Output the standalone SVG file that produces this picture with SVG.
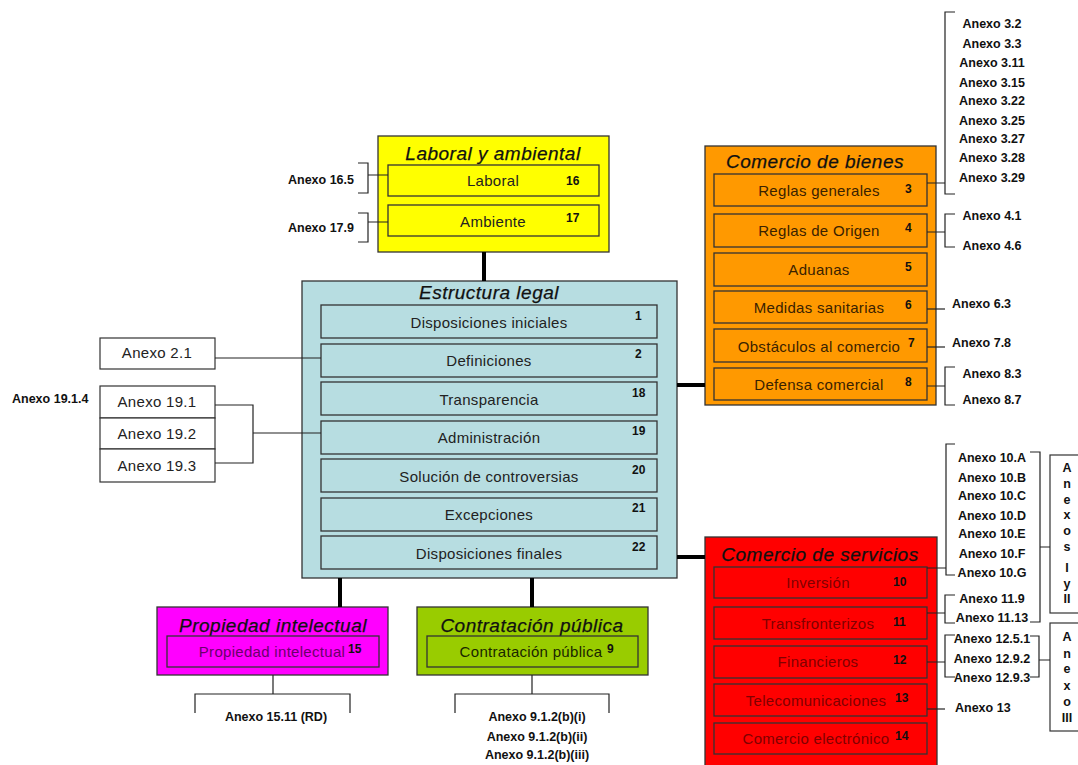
<svg xmlns="http://www.w3.org/2000/svg" width="1078" height="765" viewBox="0 0 1078 765">
<style>
text{font-family:"Liberation Sans",Arial,sans-serif}
.title{font-size:19px;font-style:italic;text-anchor:middle;fill:#111;letter-spacing:0.5px;stroke:#111;stroke-width:0.25px}
.item{font-size:15px;text-anchor:middle;letter-spacing:0.3px;fill:#222}
.num{font-size:12px;font-weight:bold;fill:#111}
.ax{font-size:12.5px;font-weight:bold;fill:#111}
.axm{font-size:12.5px;font-weight:bold;fill:#111;text-anchor:middle}
.box{stroke:#333;stroke-width:1.3}
.ln{fill:none;stroke:#222;stroke-width:1.2}
.thick{fill:none;stroke:#000;stroke-width:4}
.wbox{fill:#fff;stroke:#333;stroke-width:1.2}
.vl{font-size:12.5px;font-weight:bold;text-anchor:middle;fill:#111}
</style>
<rect width="1078" height="765" fill="#fff"/>

<g id="laboral-ambiental">
  <rect class="box" x="378" y="136" width="231" height="116" fill="#ffff00"/>
  <text class="title" x="493" y="160">Laboral y ambiental</text>
  <rect class="box" x="388" y="165" width="211" height="31" fill="#ffff00"/>
  <text class="item" x="493" y="186">Laboral</text>
  <text class="num" x="566" y="185">16</text>
  <rect class="box" x="388" y="205" width="211" height="31" fill="#ffff00"/>
  <text class="item" x="493" y="227">Ambiente</text>
  <text class="num" x="566" y="222">17</text>
  <text class="ax" x="354" y="184" text-anchor="end">Anexo 16.5</text>
  <text class="ax" x="354" y="232" text-anchor="end">Anexo 17.9</text>
</g>

<g id="estructura-legal">
  <rect class="box" x="302" y="281" width="375" height="297" fill="#b7dde1"/>
  <text class="title" x="489" y="299">Estructura legal</text>
  <g fill="#b7dde1">
    <rect class="box" x="321" y="305" width="336" height="33"/>
    <rect class="box" x="321" y="344" width="336" height="33"/>
    <rect class="box" x="321" y="382" width="336" height="33"/>
    <rect class="box" x="321" y="421" width="336" height="33"/>
    <rect class="box" x="321" y="459" width="336" height="33"/>
    <rect class="box" x="321" y="498" width="336" height="33"/>
    <rect class="box" x="321" y="536" width="336" height="33"/>
  </g>
  <text class="item" x="489" y="328">Disposiciones iniciales</text>
  <text class="item" x="489" y="366">Definiciones</text>
  <text class="item" x="489" y="405">Transparencia</text>
  <text class="item" x="489" y="443">Administración</text>
  <text class="item" x="489" y="482">Solución de controversias</text>
  <text class="item" x="489" y="520">Excepciones</text>
  <text class="item" x="489" y="559">Disposiciones finales</text>
  <text class="num" x="635" y="320">1</text>
  <text class="num" x="635" y="358">2</text>
  <text class="num" x="632" y="397">18</text>
  <text class="num" x="632" y="435">19</text>
  <text class="num" x="632" y="474">20</text>
  <text class="num" x="632" y="512">21</text>
  <text class="num" x="632" y="551">22</text>
</g>

<g id="anexos-izq">
  <rect class="wbox" x="100" y="338" width="115" height="31"/>
  <text class="item" x="157" y="358">Anexo 2.1</text>
  <rect class="wbox" x="100" y="386" width="115" height="32"/>
  <rect class="wbox" x="100" y="418" width="115" height="31"/>
  <rect class="wbox" x="100" y="449" width="115" height="33"/>
  <text class="item" x="157" y="407">Anexo 19.1</text>
  <text class="item" x="157" y="439">Anexo 19.2</text>
  <text class="item" x="157" y="471">Anexo 19.3</text>
  <text class="ax" x="12" y="403">Anexo 19.1.4</text>
</g>

<g id="comercio-bienes">
  <rect class="box" x="705" y="146" width="231" height="259" fill="#ff9900" stroke="#4a3000"/>
  <text class="title" x="815" y="168">Comercio de bienes</text>
  <g fill="#ff9900">
    <rect class="box" x="714" y="174" width="213" height="32"/>
    <rect class="box" x="714" y="214" width="213" height="33"/>
    <rect class="box" x="714" y="253" width="213" height="33"/>
    <rect class="box" x="714" y="291" width="213" height="32"/>
    <rect class="box" x="714" y="329" width="213" height="33"/>
    <rect class="box" x="714" y="368" width="213" height="32"/>
  </g>
  <text class="item" x="819" y="196" style="fill:#3a2200">Reglas generales</text>
  <text class="item" x="819" y="236" style="fill:#3a2200">Reglas de Origen</text>
  <text class="item" x="819" y="275" style="fill:#3a2200">Aduanas</text>
  <text class="item" x="819" y="313" style="fill:#3a2200">Medidas sanitarias</text>
  <text class="item" x="819" y="352" style="fill:#3a2200">Obstáculos al comercio</text>
  <text class="item" x="819" y="390" style="fill:#3a2200">Defensa comercial</text>
  <text class="num" x="905" y="193">3</text>
  <text class="num" x="905" y="232">4</text>
  <text class="num" x="905" y="271">5</text>
  <text class="num" x="905" y="309">6</text>
  <text class="num" x="908" y="347">7</text>
  <text class="num" x="905" y="386">8</text>
  <text class="axm" x="992" y="28">Anexo 3.2</text>
  <text class="axm" x="992" y="48">Anexo 3.3</text>
  <text class="axm" x="992" y="67">Anexo 3.11</text>
  <text class="axm" x="992" y="87">Anexo 3.15</text>
  <text class="axm" x="992" y="105">Anexo 3.22</text>
  <text class="axm" x="992" y="125">Anexo 3.25</text>
  <text class="axm" x="992" y="143">Anexo 3.27</text>
  <text class="axm" x="992" y="162">Anexo 3.28</text>
  <text class="axm" x="992" y="182">Anexo 3.29</text>
  <text class="axm" x="992" y="220">Anexo 4.1</text>
  <text class="axm" x="992" y="250">Anexo 4.6</text>
  <text class="ax" x="952" y="308">Anexo 6.3</text>
  <text class="ax" x="952" y="347">Anexo 7.8</text>
  <text class="axm" x="992" y="378">Anexo 8.3</text>
  <text class="axm" x="992" y="404">Anexo 8.7</text>
</g>

<g id="comercio-servicios">
  <rect class="box" x="705" y="537" width="232" height="230" fill="#ff0000" stroke="#400000"/>
  <text class="title" x="820" y="561">Comercio de servicios</text>
  <g fill="#ff0000">
    <rect class="box" x="714" y="567" width="213" height="31"/>
    <rect class="box" x="714" y="607" width="213" height="32"/>
    <rect class="box" x="714" y="646" width="213" height="32"/>
    <rect class="box" x="714" y="684" width="213" height="32"/>
    <rect class="box" x="714" y="723" width="213" height="31"/>
  </g>
  <text class="item" x="818" y="588" style="fill:#800000">Inversión</text>
  <text class="item" x="818" y="629" style="fill:#800000">Transfronterizos</text>
  <text class="item" x="818" y="667" style="fill:#800000">Financieros</text>
  <text class="item" x="816" y="706" style="fill:#800000">Telecomunicaciones</text>
  <text class="item" x="816" y="744" style="fill:#800000">Comercio electrónico</text>
  <text class="num" x="893" y="586">10</text>
  <text class="num" x="893" y="626">11</text>
  <text class="num" x="893" y="664">12</text>
  <text class="num" x="895" y="702">13</text>
  <text class="num" x="895" y="740">14</text>
  <text class="axm" x="992" y="462">Anexo 10.A</text>
  <text class="axm" x="992" y="482">Anexo 10.B</text>
  <text class="axm" x="992" y="500">Anexo 10.C</text>
  <text class="axm" x="992" y="520">Anexo 10.D</text>
  <text class="axm" x="992" y="538">Anexo 10.E</text>
  <text class="axm" x="992" y="558">Anexo 10.F</text>
  <text class="axm" x="992" y="577">Anexo 10.G</text>
  <text class="axm" x="992" y="603">Anexo 11.9</text>
  <text class="axm" x="992" y="622">Anexo 11.13</text>
  <text class="axm" x="992" y="643">Anexo 12.5.1</text>
  <text class="axm" x="992" y="663">Anexo 12.9.2</text>
  <text class="axm" x="992" y="682">Anexo 12.9.3</text>
  <text class="ax" x="955" y="712">Anexo 13</text>
</g>

<g id="anexos-I-II">
  <rect class="wbox" x="1050" y="455" width="40" height="158"/>
  <text class="vl" x="1067" y="472">A</text>
  <text class="vl" x="1067" y="488">n</text>
  <text class="vl" x="1067" y="504">e</text>
  <text class="vl" x="1067" y="519">x</text>
  <text class="vl" x="1067" y="535">o</text>
  <text class="vl" x="1067" y="551">s</text>
  <text class="vl" x="1067" y="572">I</text>
  <text class="vl" x="1067" y="588">y</text>
  <text class="vl" x="1067" y="603">II</text>
</g>

<g id="anexo-III">
  <rect class="wbox" x="1050" y="623" width="40" height="108"/>
  <text class="vl" x="1067" y="641">A</text>
  <text class="vl" x="1067" y="658">n</text>
  <text class="vl" x="1067" y="673">e</text>
  <text class="vl" x="1067" y="690">x</text>
  <text class="vl" x="1067" y="706">o</text>
  <text class="vl" x="1067" y="722">III</text>
</g>

<g id="propiedad-intelectual">
  <rect class="box" x="157" y="607" width="231" height="68" fill="#ff00ff" stroke="#400040"/>
  <text class="title" x="273" y="632">Propiedad intelectual</text>
  <rect class="box" x="167" y="636" width="212" height="31" fill="#ff00ff"/>
  <text class="item" x="272" y="657" style="fill:#6a006a">Propiedad intelectual</text>
  <text class="num" x="348" y="653">15</text>
  <text class="axm" x="276" y="721">Anexo 15.11 (RD)</text>
</g>

<g id="contratacion-publica">
  <rect class="box" x="417" y="607" width="231" height="68" fill="#99cc00" stroke="#203000"/>
  <text class="title" x="532" y="632">Contratación pública</text>
  <rect class="box" x="427" y="636" width="211" height="31" fill="#99cc00"/>
  <text class="item" x="531" y="657" style="fill:#1a2600">Contratación pública</text>
  <text class="num" x="607" y="653">9</text>
  <text class="axm" x="537" y="721">Anexo 9.1.2(b)(i)</text>
  <text class="axm" x="537" y="741">Anexo 9.1.2(b)(ii)</text>
  <text class="axm" x="537" y="759">Anexo 9.1.2(b)(iii)</text>
</g>

<g id="connectors">
  <path class="thick" d="M484,252V281M677,385H705M677,557H705M340,578V607M532,578V607"/>
  <path class="ln" d="M358,163H368V193H358M368,175H388"/>
  <path class="ln" d="M358,213H368V242H358M368,222H388"/>
  <path class="ln" d="M215,358H321"/>
  <path class="ln" d="M215,405H253V463H215M253,433H321"/>
  <path class="ln" d="M927,183H945M955,12H945V194H955"/>
  <path class="ln" d="M927,232H945M955,214H945V247H955"/>
  <path class="ln" d="M927,309H945"/>
  <path class="ln" d="M927,347H945"/>
  <path class="ln" d="M927,386H945M955,367H945V405H955"/>
  <path class="ln" d="M927,568H946M955,444H946V575H955"/>
  <path class="ln" d="M1030,452H1040V622H1030M1040,547H1050"/>
  <path class="ln" d="M927,613H945M955,595H945V623H955"/>
  <path class="ln" d="M927,662H945M955,635H945V677H955"/>
  <path class="ln" d="M1030,636H1039V677H1030M1039,660H1050"/>
  <path class="ln" d="M927,709H945"/>
  <path class="ln" d="M273,675V694M195,713V694H350V713"/>
  <path class="ln" d="M532,675V694M455,713V694H609V713"/>
</g>
</svg>
